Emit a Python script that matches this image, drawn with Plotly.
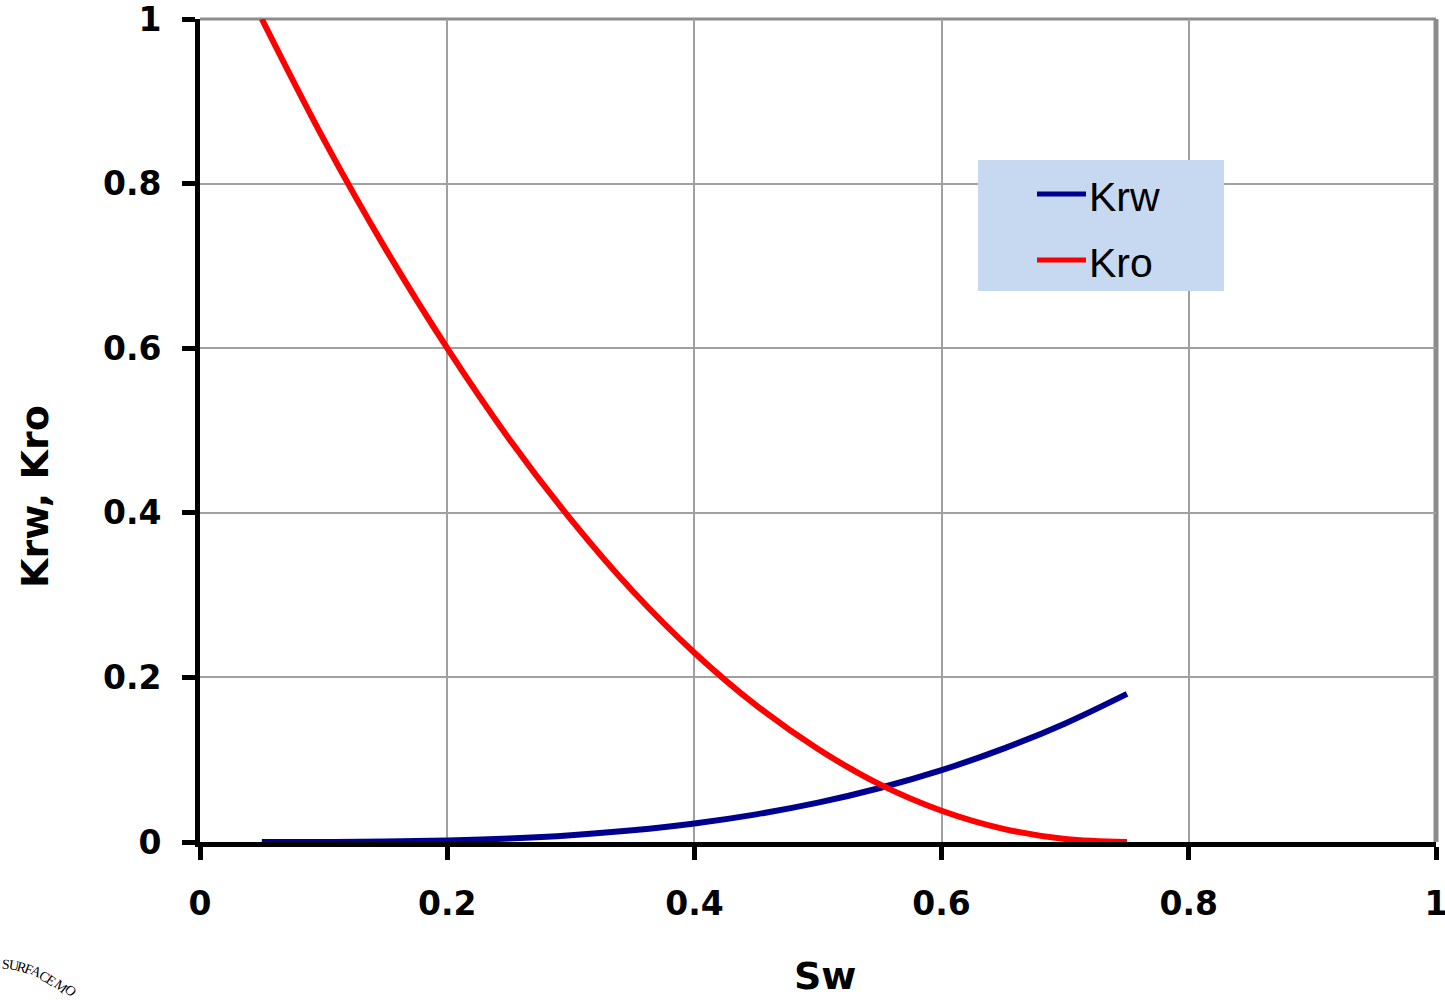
import plotly.graph_objects as go

# Water saturation and relative permeabilities
sw = [0.05, 0.10, 0.15, 0.20, 0.25, 0.30, 0.35, 0.40, 0.45, 0.50,
      0.55, 0.60, 0.65, 0.70, 0.75]
krw = [0.0, 0.0001, 0.0005, 0.0018, 0.0042, 0.0082, 0.0142, 0.0225, 0.0336,
       0.0478, 0.0656, 0.0873, 0.1134, 0.1441, 0.18]
kro = [1.0, 0.854, 0.721, 0.600, 0.490, 0.392, 0.305, 0.230, 0.166, 0.113,
       0.070, 0.038, 0.016, 0.0037, 0.0]

tick_vals = [0, 0.2, 0.4, 0.6, 0.8, 1]
tick_text = ["0", "0.2", "0.4", "0.6", "0.8", "1"]

series_names = ["Krw", "Kro"]
series_colors = ["#000090", "#FF0000"]

W, H = 1445, 1000
L, R, T, B = 200, 9, 19, 158
PW, PH = W - L - R, H - T - B


def px(x):
    return (x - L) / PW


def py(y):
    return (H - B - y) / PH


fig = go.Figure()
for name, ys, col in zip(series_names, [krw, kro], series_colors):
    fig.add_trace(go.Scatter(
        x=sw, y=ys, mode="lines", name=name, showlegend=False,
        line=dict(color=col, width=6, shape="spline", smoothing=1.0),
        cliponaxis=False,
    ))

tick_font = dict(family="DejaVu Sans", size=33, color="black", weight="bold")
axis_common = dict(
    range=[0, 1], tickvals=tick_vals, ticktext=tick_text,
    showgrid=True, gridcolor="#A0A0A0", gridwidth=2,
    showline=True, linecolor="black", linewidth=5,
    ticks="outside", ticklen=13, tickwidth=5, tickcolor="black",
    tickfont=tick_font, zeroline=False, layer="below traces",
    fixedrange=True, automargin=False, ticklabeloverflow="allow",
)
fig.update_xaxes(**axis_common, ticklabelstandoff=15)
fig.update_yaxes(**axis_common, ticklabelstandoff=14)

shapes = [
    # top and right frame
    dict(type="line", xref="paper", yref="paper", x0=0, x1=1, y0=1, y1=1,
         line=dict(color="#8C8C8C", width=3), layer="below"),
    dict(type="line", xref="paper", yref="paper", x0=1, x1=1, y0=0, y1=1,
         line=dict(color="#8C8C8C", width=5), layer="below"),
    # legend box
    dict(type="rect", xref="paper", yref="paper",
         x0=px(978), x1=px(1224), y0=py(291), y1=py(160),
         fillcolor="#C6D9F0", line=dict(width=0), layer="above"),
]
annotations = []
for i, (name, col) in enumerate(zip(series_names, series_colors)):
    yy = [194, 260][i]
    shapes.append(dict(type="line", xref="paper", yref="paper",
                       x0=px(1037), x1=px(1086), y0=py(yy), y1=py(yy),
                       line=dict(color=col, width=5), layer="above"))
    annotations.append(dict(
        xref="paper", yref="paper", x=px(1087), y=py(yy + 3),
        xanchor="left", yanchor="middle", showarrow=False, text=name,
        font=dict(family="Liberation Sans", size=41, color="black")))

# axis titles
title_font = dict(family="DejaVu Sans", size=38, color="black", weight="bold")
annotations.append(dict(xref="paper", yref="paper", x=px(825), y=py(976),
                        xanchor="center", yanchor="middle", showarrow=False,
                        text="Sw", font=title_font))
annotations.append(dict(xref="paper", yref="paper", x=px(35), y=py(497),
                        xanchor="center", yanchor="middle", showarrow=False,
                        text="Krw, Kro", textangle=-90, font=title_font))

# curved logo text in the lower-left corner
logo = [("S", 6, 964, 6), ("U", 14, 965, 10), ("R", 22, 967, 15),
        ("F", 29, 969, 20), ("A", 36, 972, 25), ("C", 44, 976, 30),
        ("E", 51, 980, 35), ("M", 61, 986, 40), ("O", 70, 991, 45)]
for ch, lx, ly, ang in logo:
    annotations.append(dict(
        xref="paper", yref="paper", x=px(lx), y=py(ly),
        xanchor="center", yanchor="middle", showarrow=False, text=ch,
        textangle=ang,
        font=dict(family="Liberation Serif", size=14, color="black")))

fig.update_layout(
    width=W, height=H,
    margin=dict(l=L, r=R, t=T, b=B, pad=0, autoexpand=False),
    paper_bgcolor="white", plot_bgcolor="white",
    shapes=shapes, annotations=annotations,
    showlegend=False,
)

fig.write_html("out.html", config=dict(displayModeBar=False))
